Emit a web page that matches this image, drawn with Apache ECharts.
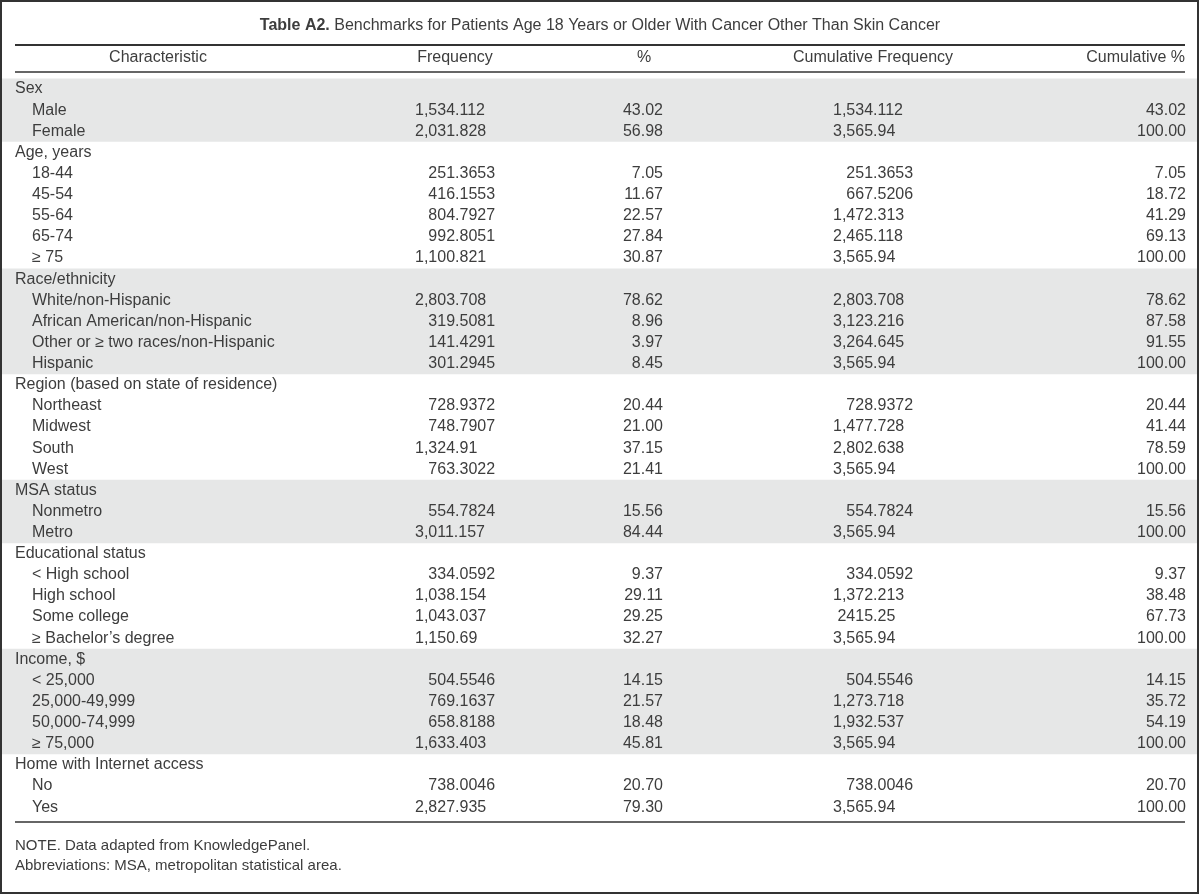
<!DOCTYPE html>
<html>
<head>
<meta charset="utf-8">
<script src="https://cdn.jsdelivr.net/npm/echarts@6/dist/echarts.min.js"></script>
<style>
html,body{margin:0;padding:0;background:#fff;}
#chart{width:1200px;height:895px;}
</style>
</head>
<body>
<div id="chart"></div>
<script>
// ---------- DATA ----------
const tableTitleBold = 'Table A2.';
const tableTitle = 'Benchmarks for Patients Age 18 Years or Older With Cancer Other Than Skin Cancer';
const columnHeaders = ['Characteristic', 'Frequency', '%', 'Cumulative Frequency', 'Cumulative %'];
const characteristics = ['Sex', 'Male', 'Female',
  'Age, years', '18-44', '45-54', '55-64', '65-74', '\u2265 75',
  'Race/ethnicity', 'White/non-Hispanic', 'African American/non-Hispanic', 'Other or \u2265 two races/non-Hispanic', 'Hispanic',
  'Region (based on state of residence)', 'Northeast', 'Midwest', 'South', 'West',
  'MSA status', 'Nonmetro', 'Metro',
  'Educational status', '< High school', 'High school', 'Some college', '\u2265 Bachelor\u2019s degree',
  'Income, $', '< 25,000', '25,000-49,999', '50,000-74,999', '\u2265 75,000',
  'Home with Internet access', 'No', 'Yes'];
const frequency = ['', '1,534.112', '2,031.828',
  '', '251.3653', '416.1553', '804.7927', '992.8051', '1,100.821',
  '', '2,803.708', '319.5081', '141.4291', '301.2945',
  '', '728.9372', '748.7907', '1,324.91', '763.3022',
  '', '554.7824', '3,011.157',
  '', '334.0592', '1,038.154', '1,043.037', '1,150.69',
  '', '504.5546', '769.1637', '658.8188', '1,633.403',
  '', '738.0046', '2,827.935'];
const percent = ['', '43.02', '56.98',
  '', '7.05', '11.67', '22.57', '27.84', '30.87',
  '', '78.62', '8.96', '3.97', '8.45',
  '', '20.44', '21.00', '37.15', '21.41',
  '', '15.56', '84.44',
  '', '9.37', '29.11', '29.25', '32.27',
  '', '14.15', '21.57', '18.48', '45.81',
  '', '20.70', '79.30'];
const cumFrequency = ['', '1,534.112', '3,565.94',
  '', '251.3653', '667.5206', '1,472.313', '2,465.118', '3,565.94',
  '', '2,803.708', '3,123.216', '3,264.645', '3,565.94',
  '', '728.9372', '1,477.728', '2,802.638', '3,565.94',
  '', '554.7824', '3,565.94',
  '', '334.0592', '1,372.213', '2415.25', '3,565.94',
  '', '504.5546', '1,273.718', '1,932.537', '3,565.94',
  '', '738.0046', '3,565.94'];
const cumPercent = ['', '43.02', '100.00',
  '', '7.05', '18.72', '41.29', '69.13', '100.00',
  '', '78.62', '87.58', '91.55', '100.00',
  '', '20.44', '41.44', '78.59', '100.00',
  '', '15.56', '100.00',
  '', '9.37', '38.48', '67.73', '100.00',
  '', '14.15', '35.72', '54.19', '100.00',
  '', '20.70', '100.00'];
const notes = ['NOTE. Data adapted from KnowledgePanel.', 'Abbreviations: MSA, metropolitan statistical area.'];

// ---------- STYLE / LAYOUT ----------
const FONT = '"Liberation Sans", Arial, sans-serif';
const TEXT = '#3d3d3d';
const SHADE = '#e6e7e7';
const FS = 16;
const ROW_TOP = 78.5, ROW_H = 21.12;
const nRows = characteristics.length;

const measureCtx = document.createElement('canvas').getContext('2d');
measureCtx.font = FS + 'px ' + FONT;
const w = s => measureCtx.measureText(s).width;
// figure-space style indent for numbers printed without thousands separator
function indent(s) {
  if (s.indexOf(',') >= 0) return 0;
  const intLen = s.split('.')[0].length;
  return intLen <= 3 ? w('1,') : w(',');
}

// group bands (every other group shaded)
const groupStarts = [];
frequency.forEach((v, i) => { if (v === '') groupStarts.push(i); });
const bands = [];
groupStarts.forEach((s, g) => {
  const e = g + 1 < groupStarts.length ? groupStarts[g + 1] - 1 : nRows - 1;
  if (g % 2 === 0) bands.push([s, e]);
});

const chart = echarts.init(document.getElementById('chart'), null, {renderer: 'canvas'});

const option = {
  animation: false,
  backgroundColor: '#fff',
  grid: {left: 0, right: 0, top: ROW_TOP, height: ROW_H * nRows, containLabel: false},
  xAxis: {type: 'value', min: 0, max: 1200, show: false},
  yAxis: {type: 'category', data: characteristics.map((c, i) => i), inverse: true, show: false},
  series: [
    {
      type: 'custom',
      silent: true,
      data: bands,
      renderItem: function (params, api) {
        const top = api.coord([0, api.value(0)]);
        const bot = api.coord([0, api.value(1)]);
        const h = api.size([0, 1])[1];
        return {
          type: 'rect',
          shape: {x: 1, y: top[1] - h / 2, width: 1197, height: bot[1] - top[1] + h},
          style: {fill: SHADE}
        };
      },
      encode: {x: -1, y: 0},
      z: 1
    },
    {
      type: 'custom',
      silent: true,
      data: characteristics.map((c, i) => [i]),
      renderItem: function (params, api) {
        const i = api.value(0);
        const y = api.coord([0, i])[1];
        const isGroup = frequency[i] === '';
        const base = {fill: TEXT, fontFamily: FONT, fontSize: FS, verticalAlign: 'middle'};
        const kids = [{
          type: 'text',
          style: Object.assign({}, base, {text: characteristics[i], x: isGroup ? 15 : 32, y: y, align: 'left'})
        }];
        if (!isGroup) {
          kids.push({type: 'text', style: Object.assign({}, base, {text: frequency[i], x: 415 + indent(frequency[i]), y: y, align: 'left'})});
          kids.push({type: 'text', style: Object.assign({}, base, {text: percent[i], x: 663, y: y, align: 'right'})});
          kids.push({type: 'text', style: Object.assign({}, base, {text: cumFrequency[i], x: 833 + indent(cumFrequency[i]), y: y, align: 'left'})});
          kids.push({type: 'text', style: Object.assign({}, base, {text: cumPercent[i], x: 1186, y: y, align: 'right'})});
        }
        return {type: 'group', children: kids};
      },
      encode: {y: 0},
      z: 5
    }
  ],
  graphic: [
    {type: 'rect', shape: {x: 1, y: 1, width: 1197, height: 892}, style: {fill: 'none', stroke: '#333', lineWidth: 2}, z: 100},
    {type: 'text', x: 600, y: 26, style: {
      text: '{b|' + tableTitleBold + '} ' + tableTitle,
      align: 'center', verticalAlign: 'middle',
      fill: TEXT, font: FS + 'px ' + FONT,
      rich: {b: {fontWeight: 'bold', fontSize: FS, fontFamily: FONT, fill: TEXT}}
    }},
    {type: 'line', shape: {x1: 15, y1: 45, x2: 1185, y2: 45}, style: {stroke: '#333', lineWidth: 2}},
    {type: 'text', x: 158, y: 58, style: {text: columnHeaders[0], align: 'center', verticalAlign: 'middle', fill: TEXT, font: FS + 'px ' + FONT}},
    {type: 'text', x: 455, y: 58, style: {text: columnHeaders[1], align: 'center', verticalAlign: 'middle', fill: TEXT, font: FS + 'px ' + FONT}},
    {type: 'text', x: 644, y: 58, style: {text: columnHeaders[2], align: 'center', verticalAlign: 'middle', fill: TEXT, font: FS + 'px ' + FONT}},
    {type: 'text', x: 873, y: 58, style: {text: columnHeaders[3], align: 'center', verticalAlign: 'middle', fill: TEXT, font: FS + 'px ' + FONT}},
    {type: 'text', x: 1185, y: 58, style: {text: columnHeaders[4], align: 'right', verticalAlign: 'middle', fill: TEXT, font: FS + 'px ' + FONT}},
    {type: 'line', shape: {x1: 15, y1: 72, x2: 1185, y2: 72}, style: {stroke: '#333', lineWidth: 1.5}},
    {type: 'line', shape: {x1: 15, y1: 822, x2: 1185, y2: 822}, style: {stroke: '#333', lineWidth: 1.5}},
    {type: 'text', x: 15, y: 846, style: {text: notes[0], align: 'left', verticalAlign: 'middle', fill: TEXT, font: '15px ' + FONT}},
    {type: 'text', x: 15, y: 866, style: {text: notes[1], align: 'left', verticalAlign: 'middle', fill: TEXT, font: '15px ' + FONT}}
  ]
};
chart.setOption(option);
</script>
</body>
</html>
